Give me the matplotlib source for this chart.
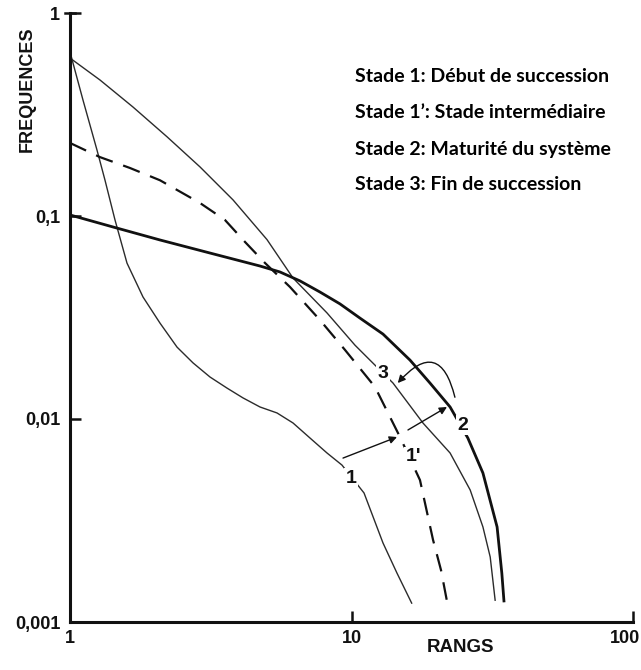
import matplotlib
matplotlib.use("Agg")
import matplotlib.pyplot as plt
import matplotlib.transforms as mtransforms
from matplotlib.ticker import NullLocator

# ---- data ----
rank_s1 = [1.0, 1.112, 1.247, 1.331, 1.445, 1.594, 1.817, 2.087, 2.400, 2.735, 3.143, 3.612,
           4.118, 4.731, 5.437, 6.197, 7.121, 8.185, 9.25, 11.08, 12.94, 14.51, 16.4]
freq_s1 = [0.643, 0.3727, 0.2113, 0.1504, 0.0956, 0.0586, 0.0399, 0.0297, 0.0226, 0.0189, 0.0161,
           0.0142, 0.0127, 0.01146, 0.01071, 0.00956, 0.00806, 0.0068, 0.00593, 0.00432, 0.00245,
           0.00174, 0.00123]

rank_s1p = [1.0, 1.278, 1.633, 2.087, 2.896, 3.552, 4.185, 4.928, 6.046, 7.73, 9.48, 12.12,
            14.87, 17.51, 19.48, 20.8, 21.8]
freq_s1p = [0.229, 0.195, 0.1724, 0.150, 0.1159, 0.0956, 0.0745, 0.0587, 0.0447, 0.0307, 0.0219,
            0.01438, 0.00815, 0.0050, 0.00254, 0.0018, 0.00128]

rank_s2 = [1.0, 1.421, 2.087, 3.143, 4.731, 5.57, 6.56, 7.73, 9.10, 10.72, 12.94, 16.14, 19.0,
           22.4, 25.9, 29.3, 32.9, 34.2, 34.8]
freq_s2 = [0.1012, 0.0883, 0.0762, 0.0657, 0.0567, 0.0530, 0.0479, 0.0422, 0.0369, 0.0314, 0.0262,
           0.0195, 0.01504, 0.01146, 0.00806, 0.00542, 0.00294, 0.00174, 0.00127]

rank_s3 = [1.0, 1.278, 1.674, 2.212, 2.896, 3.795, 5.01, 6.197, 8.185, 10.29, 11.63, 14.04, 17.95,
           22.4, 26.4, 29.3, 31.1, 32.4]
freq_s3 = [0.600, 0.4677, 0.3442, 0.2455, 0.1745, 0.120, 0.0765, 0.0495, 0.0333, 0.0231, 0.0195,
           0.01504, 0.00955, 0.0068, 0.00447, 0.00294, 0.00209, 0.00127]

xticks = [1, 10, 100]
xtick_labels = ["1", "10", "100"]
yticks = [0.001, 0.01, 0.1, 1]
ytick_labels = ["0,001", "0,01", "0,1", "1"]

curve_labels = ["1", "1'", "2", "3"]
curve_label_pos = [(9.96, 0.00512), (16.54, 0.0065), (24.9, 0.00934), (12.94, 0.01685)]

legend_lines = ["Stade 1: Début de succession",
                "Stade 1’: Stade intermédiaire",
                "Stade 2: Maturité du système",
                "Stade 3: Fin de succession"]

# ---- figure ----
W, H = 641, 670
fig = plt.figure(figsize=(W / 100, H / 100), dpi=100)
fig.patch.set_facecolor("white")
ax = fig.add_axes([70 / W, 1 - 622 / H, (633 - 70) / W, (622 - 13) / H])

ax.set_xscale("log")
ax.set_yscale("log")
ax.set_xlim(1, 100)
ax.set_ylim(0.001, 1)

thin = dict(color="#2b2b2b", lw=1.0, solid_capstyle="butt", solid_joinstyle="round")
ax.plot(rank_s1, freq_s1, **thin)
ax.plot(rank_s3, freq_s3, **thin)
ax.plot(rank_s2, freq_s2, color="#111111", lw=2.0, solid_joinstyle="round")
ax.plot(rank_s1p, freq_s1p, color="#111111", lw=1.6, dashes=(8, 5))

# arrows between stages
arrow_kw = dict(arrowstyle="-|>", color="#111111", lw=1.0, mutation_scale=11)
ax.annotate("", xy=(14.51, 0.00815), xytext=(9.33, 0.00642),
            arrowprops=dict(**arrow_kw, shrinkA=0, shrinkB=0))
ax.annotate("", xy=(21.84, 0.01146), xytext=(15.87, 0.00883),
            arrowprops=dict(**arrow_kw, shrinkA=0, shrinkB=0))
ax.annotate("", xy=(14.6, 0.01504), xytext=(23.3, 0.0128),
            arrowprops=dict(**arrow_kw, shrinkA=0, shrinkB=0,
                            connectionstyle="arc3,rad=0.95"))

for lab, (xx, yy) in zip(curve_labels, curve_label_pos):
    ax.text(xx, yy, lab, ha="center", va="center", fontsize=14, fontweight="bold",
            family="Liberation Sans", color="#111111",
            bbox=dict(facecolor="white", edgecolor="none", pad=1.0), zorder=5)

# axes styling
for s in ["top", "right"]:
    ax.spines[s].set_visible(False)
for s in ["left", "bottom"]:
    ax.spines[s].set_linewidth(2.2)
    ax.spines[s].set_color("#111111")

ax.set_xticks(xticks)
ax.set_xticklabels(xtick_labels)
ax.set_yticks(yticks)
ax.set_yticklabels(ytick_labels)
ax.xaxis.set_minor_locator(NullLocator())
ax.yaxis.set_minor_locator(NullLocator())
ax.tick_params(axis="both", direction="in", length=8, width=1.8, color="#111111")
ax.tick_params(axis="y", pad=7)
ax.tick_params(axis="x", pad=6)
for lbl in ax.get_xticklabels() + ax.get_yticklabels():
    lbl.set_fontfamily("Liberation Sans")
    lbl.set_fontweight("bold")
    lbl.set_fontsize(13)
    lbl.set_color("#111111")

# keep the "100" label inside the picture (it hugs the right edge in the reference)
last = ax.get_xticklabels()[-1]
last.set_transform(last.get_transform() +
                   mtransforms.ScaledTranslation(-8 / 100, 0, fig.dpi_scale_trans))

# cap at top of y axis
ax.plot([-0.008, 0.008], [1, 1], transform=ax.transAxes, color="#111111", lw=1.8,
        clip_on=False)

# axis titles
fig.text(27 / W, 1 - 89 / H, "FREQUENCES", rotation=90, ha="center", va="center",
         fontsize=13, fontweight="bold", family="Liberation Sans", color="#111111")
fig.text(461 / W, 1 - 647 / H, "RANGS", ha="center", va="center",
         fontsize=13.5, fontweight="bold", family="Liberation Sans", color="#111111")

# stage descriptions
for i, line in enumerate(legend_lines):
    fig.text(355 / W, 1 - (77 + i * 36) / H, line, ha="left", va="center",
             fontsize=14, fontweight="bold", family="Lato", color="#000000")

fig.savefig("out.png", dpi=100, facecolor="white")
